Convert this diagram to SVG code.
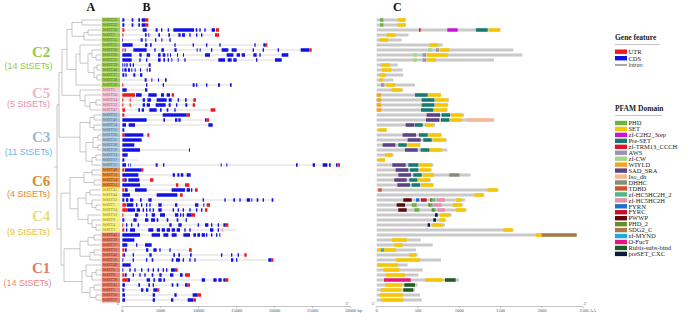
<svg xmlns="http://www.w3.org/2000/svg" width="685" height="313" viewBox="0 0 685 313">
<style>
text{font-family:"Liberation Serif","Times New Roman",serif}
.hd{font-size:12px;font-weight:bold;fill:#111}
.cl{font-size:15px;font-weight:bold}
.cn{font-family:"Liberation Sans",Arial,sans-serif;font-size:9px;text-anchor:middle}
.lab{font-size:4px}
.tree{fill:none;stroke:#a3a3a3;stroke-width:.6}
.i{fill:none;stroke:#9c9c9c;stroke-width:.6}
.c{fill:none;stroke:#1212e4;stroke-width:3.4}
.u{fill:none;stroke:#f01818;stroke-width:3.4}
.gb{fill:none;stroke:#c9c9c9;stroke-width:3.2}
.ax{fill:none;stroke:#8a8a8a;stroke-width:.5}
.axt{font-size:4.5px;fill:#555;text-anchor:middle}
.k2{fill:#9fcd55}.t2{fill:#4a6b1c}
.k5{fill:#f1c6d8}.t5{fill:#9a5c78}
.k3{fill:#a9c3da}.t3{fill:#4a6278}
.k6{fill:#e8923b}.t6{fill:#6a3608}
.k4{fill:#f6ef7c}.t4{fill:#86801c}
.k1{fill:#e8816b}.t1{fill:#7a2818}
.PHD{stroke:#6db140;fill:#6db140}
.SET{stroke:#f7c600;fill:#f7c600}
.C2H2{stroke:#cc12d6;fill:#cc12d6}
.PRE{stroke:#177a6e;fill:#177a6e}
.TRM{stroke:#e41428;fill:#e41428}
.AWS{stroke:#9a93b8;fill:#9a93b8}
.CW{stroke:#a6d785;fill:#a6d785}
.WIY{stroke:#f5a31f;fill:#f5a31f}
.SAD{stroke:#5b4289;fill:#5b4289}
.ISO{stroke:#f5b890;fill:#f5b890}
.DHHC{stroke:#8a8a78;fill:#8a8a78}
.TDBD{stroke:#d0542c;fill:#d0542c}
.HC2{stroke:#4db88a;fill:#4db88a}
.HC{stroke:#e88fae;fill:#e88fae}
.FYRN{stroke:#1e6fd0;fill:#1e6fd0}
.FYRC{stroke:#c8102e;fill:#c8102e}
.PWWP{stroke:#5c0a0a;fill:#5c0a0a}
.PHD2{stroke:#6b8a2a;fill:#6b8a2a}
.SDG2{stroke:#a97a45;fill:#a97a45}
.MYND{stroke:#1aaae6;fill:#1aaae6}
.OFU{stroke:#e8147c;fill:#e8147c}
.RUB{stroke:#1f5c1f;fill:#1f5c1f}
.CXC{stroke:#0b1a3f;fill:#0b1a3f}
.d{fill:none;stroke-width:3.4}
.lg{stroke:none}
.lt{font-size:6.5px;fill:#222}
.lh{font-size:7.5px;font-weight:bold;fill:#222}
</style>

<g id="panel-letters">
<text class="hd" x="86.5" y="11">A</text>
<text class="hd" x="142.5" y="11">B</text>
<text class="hd" x="393" y="11">C</text>
</g>

<g id="clade-titles">
<text class="cl" x="32" y="57" fill="#93c950">C2</text>
<text class="cn" x="28.5" y="68.5" fill="#93c950">(14 StSETs)</text>
<text class="cl" x="32" y="97.5" fill="#ebb5cf">C5</text>
<text class="cn" x="28.5" y="107" fill="#e98db4">(5 StSETs)</text>
<text class="cl" x="32" y="141.5" fill="#9cb9d0">C3</text>
<text class="cn" x="28.5" y="155" fill="#6cb7e2">(11 StSETs)</text>
<text class="cl" x="32" y="185.5" fill="#e1892f">C6</text>
<text class="cn" x="28.5" y="197" fill="#e1892f">(4 StSETs)</text>
<text class="cl" x="32" y="221" fill="#e2e07a">C4</text>
<text class="cn" x="28.5" y="234.5" fill="#e8c51c">(9 StSETs)</text>
<text class="cl" x="32" y="273" fill="#e57a68">C1</text>
<text class="cn" x="27.5" y="286" fill="#e8877a">(14 StSETs)</text>
</g>

<g id="connectors">
<path class="tree" d="M82 20V25M82 20H101M82 25H101M88 30V35M88 30H101M88 35H101M84 32.5V40M84 32.5H88M84 40H101M72 22.5V36.25M72 22.5H82M72 36.25H84M96 55V60M96 55H101M96 60H101M92 50V57.5M92 50H101M92 57.5H96M97 65V70M97 65H101M97 70H101M97 75V80M97 75H101M97 80H101M94 67.5V77.5M94 67.5H97M94 77.5H97M88 53.75V72.5M88 53.75H92M88 72.5H94M80 45V63.13M80 45H101M80 63.13H88M76 54.06V85M76 54.06H80M76 85H101M67 29.38V69.53M67 29.38H72M67 69.53H76
M96 100V105M96 100H101M96 105H101M90 102.5V110M90 102.5H96M90 110H101M85 95V106.25M85 95H101M85 106.25H90M80 90V100.63M80 90H101M80 100.63H85M62 49.45V95.31M62 49.45H67M62 95.31H80
M94 115V120M94 115H101M94 120H101M94 125V130M94 125H101M94 130H101M90 117.5V127.5M90 117.5H94M90 127.5H94M98 135V140M98 135H101M98 140H101M98 145V150M98 145H101M98 150H101M93 137.5V147.5M93 137.5H98M93 147.5H98M96 155V160M96 155H101M96 160H101M92 157.5V165M92 157.5H96M92 165H101M86 142.5V161.25M86 142.5H93M86 161.25H92M80 122.5V151.88M80 122.5H90M80 151.88H86M59 72.38V137.19M59 72.38H62M59 137.19H80
M92 170V175M92 170H101M92 175H101M94 180V185M94 180H101M94 185H101M84 172.5V182.5M84 172.5H92M84 182.5H94
M90 190V195M90 190H101M90 195H101M96 205V210M96 205H101M96 210H101M92 200V207.5M92 200H101M92 207.5H96M86 192.5V203.75M86 192.5H90M86 203.75H92M96 225V230M96 225H101M96 230H101M92 220V227.5M92 220H101M92 227.5H96M88 215V223.75M88 215H101M88 223.75H92M78 198.13V219.38M78 198.13H86M78 219.38H88M70 177.5V208.75M70 177.5H84M70 208.75H78
M94 235V240M94 235H101M94 240H101M88 237.5V245M88 237.5H94M88 245H101M94 250V255M94 250H101M94 255H101M90 252.5V260M90 252.5H94M90 260H101M80 241.25V256.25M80 241.25H88M80 256.25H90M96 270V275M96 270H101M96 275H101M92 272.5V280M92 272.5H96M92 280H101M86 265V276.25M86 265H101M86 276.25H92M94 285V290M94 285H101M94 290H101M96 295V300M96 295H101M96 300H101M90 287.5V297.5M90 287.5H94M90 297.5H96M82 270.63V292.5M82 270.63H86M82 292.5H90M64 248.75V281.56M64 248.75H80M64 281.56H82M61 193.13V265.16M61 193.13H70M61 265.16H64M57 104.78V229.14M57 104.78H59M57 229.14H61M54 166.96H57"/>
</g>

<g id="labels">
<g id="labels-C2">
<rect class="k2" x="101.7" y="17.6" width="18.3" height="4.8"/><text class="lab t2" x="102.6" y="21.4">StSET23</text>
<rect class="k2" x="101.7" y="22.6" width="18.3" height="4.8"/><text class="lab t2" x="102.6" y="26.4">StSET22</text>
<rect class="k2" x="101.7" y="27.6" width="18.3" height="4.8"/><text class="lab t2" x="102.6" y="31.4">StSET10</text>
<rect class="k2" x="101.7" y="32.6" width="18.3" height="4.8"/><text class="lab t2" x="102.6" y="36.4">StSET2</text>
<rect class="k2" x="101.7" y="37.6" width="18.3" height="4.8"/><text class="lab t2" x="102.6" y="41.4">StSET55</text>
<rect class="k2" x="101.7" y="42.6" width="18.3" height="4.8"/><text class="lab t2" x="102.6" y="46.4">StSET35</text>
<rect class="k2" x="101.7" y="47.6" width="18.3" height="4.8"/><text class="lab t2" x="102.6" y="51.4">StSET30</text>
<rect class="k2" x="101.7" y="52.6" width="18.3" height="4.8"/><text class="lab t2" x="102.6" y="56.4">StSET26</text>
<rect class="k2" x="101.7" y="57.6" width="18.3" height="4.8"/><text class="lab t2" x="102.6" y="61.4">StSET25</text>
<rect class="k2" x="101.7" y="62.6" width="18.3" height="4.8"/><text class="lab t2" x="102.6" y="66.4">StSET39</text>
<rect class="k2" x="101.7" y="67.6" width="18.3" height="4.8"/><text class="lab t2" x="102.6" y="71.4">StSET40</text>
<rect class="k2" x="101.7" y="72.6" width="18.3" height="4.8"/><text class="lab t2" x="102.6" y="76.4">StSET37</text>
<rect class="k2" x="101.7" y="77.6" width="18.3" height="4.8"/><text class="lab t2" x="102.6" y="81.4">StSET38</text>
<rect class="k2" x="101.7" y="82.6" width="18.3" height="4.8"/><text class="lab t2" x="102.6" y="86.4">StSET36</text>
</g>
<g id="labels-C5">
<rect class="k5" x="101.7" y="87.6" width="18.3" height="4.8"/><text class="lab t5" x="102.6" y="91.4">StSET5</text>
<rect class="k5" x="101.7" y="92.6" width="18.3" height="4.8"/><text class="lab t5" x="102.6" y="96.4">StSET50</text>
<rect class="k5" x="101.7" y="97.6" width="18.3" height="4.8"/><text class="lab t5" x="102.6" y="101.4">StSET34</text>
<rect class="k5" x="101.7" y="102.6" width="18.3" height="4.8"/><text class="lab t5" x="102.6" y="106.4">StSET33</text>
<rect class="k5" x="101.7" y="107.6" width="18.3" height="4.8"/><text class="lab t5" x="102.6" y="111.4">StSET47</text>
</g>
<g id="labels-C3">
<rect class="k3" x="101.7" y="112.6" width="18.3" height="4.8"/><text class="lab t3" x="102.6" y="116.4">StSET32</text>
<rect class="k3" x="101.7" y="117.6" width="18.3" height="4.8"/><text class="lab t3" x="102.6" y="121.4">StSET46</text>
<rect class="k3" x="101.7" y="122.6" width="18.3" height="4.8"/><text class="lab t3" x="102.6" y="126.4">StSET14</text>
<rect class="k3" x="101.7" y="127.6" width="18.3" height="4.8"/><text class="lab t3" x="102.6" y="131.4">StSET15</text>
<rect class="k3" x="101.7" y="132.6" width="18.3" height="4.8"/><text class="lab t3" x="102.6" y="136.4">StSET20</text>
<rect class="k3" x="101.7" y="137.6" width="18.3" height="4.8"/><text class="lab t3" x="102.6" y="141.4">StSET21</text>
<rect class="k3" x="101.7" y="142.6" width="18.3" height="4.8"/><text class="lab t3" x="102.6" y="146.4">StSET18</text>
<rect class="k3" x="101.7" y="147.6" width="18.3" height="4.8"/><text class="lab t3" x="102.6" y="151.4">StSET19</text>
<rect class="k3" x="101.7" y="152.6" width="18.3" height="4.8"/><text class="lab t3" x="102.6" y="156.4">StSET13</text>
<rect class="k3" x="101.7" y="157.6" width="18.3" height="4.8"/><text class="lab t3" x="102.6" y="161.4">StSET17</text>
<rect class="k3" x="101.7" y="162.6" width="18.3" height="4.8"/><text class="lab t3" x="102.6" y="166.4">StSET11</text>
</g>
<g id="labels-C6">
<rect class="k6" x="101.7" y="167.6" width="18.3" height="4.8"/><text class="lab t6" x="102.6" y="171.4">StSET48</text>
<rect class="k6" x="101.7" y="172.6" width="18.3" height="4.8"/><text class="lab t6" x="102.6" y="176.4">StSET53</text>
<rect class="k6" x="101.7" y="177.6" width="18.3" height="4.8"/><text class="lab t6" x="102.6" y="181.4">StSET54</text>
<rect class="k6" x="101.7" y="182.6" width="18.3" height="4.8"/><text class="lab t6" x="102.6" y="186.4">StSET51</text>
</g>
<g id="labels-C4">
<rect class="k4" x="101.7" y="187.6" width="18.3" height="4.8"/><text class="lab t4" x="102.6" y="191.4">StSET45</text>
<rect class="k4" x="101.7" y="192.6" width="18.3" height="4.8"/><text class="lab t4" x="102.6" y="196.4">StSET44</text>
<rect class="k4" x="101.7" y="197.6" width="18.3" height="4.8"/><text class="lab t4" x="102.6" y="201.4">StSET52</text>
<rect class="k4" x="101.7" y="202.6" width="18.3" height="4.8"/><text class="lab t4" x="102.6" y="206.4">StSET7</text>
<rect class="k4" x="101.7" y="207.6" width="18.3" height="4.8"/><text class="lab t4" x="102.6" y="211.4">StSET24</text>
<rect class="k4" x="101.7" y="212.6" width="18.3" height="4.8"/><text class="lab t4" x="102.6" y="216.4">StSET12</text>
<rect class="k4" x="101.7" y="217.6" width="18.3" height="4.8"/><text class="lab t4" x="102.6" y="221.4">StSET9</text>
<rect class="k4" x="101.7" y="222.6" width="18.3" height="4.8"/><text class="lab t4" x="102.6" y="226.4">StSET4</text>
<rect class="k4" x="101.7" y="227.6" width="18.3" height="4.8"/><text class="lab t4" x="102.6" y="231.4">StSET3</text>
</g>
<g id="labels-C1">
<rect class="k1" x="101.7" y="232.6" width="18.3" height="4.8"/><text class="lab t1" x="102.6" y="236.4">StSET43</text>
<rect class="k1" x="101.7" y="237.6" width="18.3" height="4.8"/><text class="lab t1" x="102.6" y="241.4">StSET29</text>
<rect class="k1" x="101.7" y="242.6" width="18.3" height="4.8"/><text class="lab t1" x="102.6" y="246.4">StSET27</text>
<rect class="k1" x="101.7" y="247.6" width="18.3" height="4.8"/><text class="lab t1" x="102.6" y="251.4">StSET31</text>
<rect class="k1" x="101.7" y="252.6" width="18.3" height="4.8"/><text class="lab t1" x="102.6" y="256.4">StSET42</text>
<rect class="k1" x="101.7" y="257.6" width="18.3" height="4.8"/><text class="lab t1" x="102.6" y="261.4">StSET16</text>
<rect class="k1" x="101.7" y="262.6" width="18.3" height="4.8"/><text class="lab t1" x="102.6" y="266.4">StSET49</text>
<rect class="k1" x="101.7" y="267.6" width="18.3" height="4.8"/><text class="lab t1" x="102.6" y="271.4">StSET6</text>
<rect class="k1" x="101.7" y="272.6" width="18.3" height="4.8"/><text class="lab t1" x="102.6" y="276.4">StSET8</text>
<rect class="k1" x="101.7" y="277.6" width="18.3" height="4.8"/><text class="lab t1" x="102.6" y="281.4">StSET28</text>
<rect class="k1" x="101.7" y="282.6" width="18.3" height="4.8"/><text class="lab t1" x="102.6" y="286.4">StSET41</text>
<rect class="k1" x="101.7" y="287.6" width="18.3" height="4.8"/><text class="lab t1" x="102.6" y="291.4">StSET1</text>
<rect class="k1" x="101.7" y="292.6" width="18.3" height="4.8"/><text class="lab t1" x="102.6" y="296.4">StSET56</text>
<rect class="k1" x="101.7" y="297.6" width="18.3" height="4.8"/><text class="lab t1" x="102.6" y="301.4">StSET57</text>
</g>
</g>

<g id="gene-structures" transform="translate(90 0) scale(.333333 1)">
<g id="gene-StSET23"><path class="i" d="M97 20H175"/><path class="c" d="M97 20H103M125 20H130M145 20H150M155 20H165"/><path class="u" d="M165 20H175"/></g>
<g id="gene-StSET22"><path class="i" d="M97 25H175"/><path class="c" d="M97 25H103M125 25H130M145 25H150M155 25H165"/><path class="u" d="M165 25H175"/></g>
<g id="gene-StSET10"><path class="i" d="M97 30H387"/><path class="c" d="M158 30H170M197 30H203M213 30H217M233 30H237M250 30H312M317 30H322M328 30H332M343 30H347M365 30H375"/><path class="u" d="M97 30H103M378 30H387"/></g>
<g id="gene-StSET2"><path class="i" d="M97 35H387"/><path class="c" d="M165 35H170M175 35H178M205 35H210M235 35H240M265 35H272M276 35H285M298 35H302M318 35H322M333 35H337"/><path class="u" d="M97 35H100M375 35H387"/></g>
<g id="gene-StSET55"><path class="i" d="M97 40H242"/><path class="c" d="M97 40H99M152 40H158M166 40H169M195 40H199M214 40H217M238 40H242"/></g>
<g id="gene-StSET35"><path class="i" d="M97 45H532"/><path class="c" d="M97 45H128M165 45H172M180 45H185M253 45H257M308 45H312M348 45H352M388 45H392M493 45H497M520 45H525"/><path class="u" d="M525 45H532"/></g>
<g id="gene-StSET30"><path class="i" d="M97 50H665"/><path class="c" d="M104 50H107M130 50H170M193 50H197M214 50H222M253 50H260M320 50H323M329 50H332M363 50H367M395 50H415M425 50H440M488 50H492M518 50H522M563 50H567M632 50H658"/><path class="u" d="M97 50H100M658 50H665"/></g>
<g id="gene-StSET26"><path class="i" d="M97 55H595"/><path class="c" d="M97 55H125M148 55H155M170 55H180M204 55H212M218 55H226M232 55H235M240 55H243M261 55H264M279 55H282M345 55H360M410 55H430M440 55H450M455 55H465M490 55H500M508 55H512M575 55H595"/></g>
<g id="gene-StSET25"><path class="i" d="M97 60H575"/><path class="c" d="M97 60H125M148 60H152M168 60H172M204 60H212M220 60H225M233 60H237M244 60H247M263 60H266M283 60H287M385 60H405M413 60H425M430 60H440M498 60H502M555 60H575"/></g>
<g id="gene-StSET39"><path class="i" d="M97 65H182"/><path class="c" d="M97 65H100M103 65H106M109 65H113M119 65H123M128 65H132M176 65H182"/></g>
<g id="gene-StSET40"><path class="i" d="M97 70H182"/><path class="c" d="M97 70H100M103 70H110M114 70H120M124 70H127M134 70H137M150 70H153M170 70H173M177 70H182"/></g>
<g id="gene-StSET37"><path class="i" d="M97 75H157"/><path class="c" d="M97 75H103M106 75H110M130 75H136M150 75H157"/></g>
<g id="gene-StSET38"><path class="i" d="M97 80H230"/><path class="c" d="M164 80H170M184 80H187M204 80H207M225 80H230"/></g>
<g id="gene-StSET36"><path class="i" d="M97 85H425"/><path class="c" d="M168 85H172M218 85H222M308 85H314M318 85H322M348 85H352M384 85H390M420 85H425"/><path class="u" d="M97 85H100"/></g>
<g id="gene-StSET5"><path class="i" d="M97 90H172"/><path class="c" d="M97 90H110M165 90H172"/></g>
<g id="gene-StSET50"><path class="i" d="M97 95H252"/><path class="c" d="M138 95H155M175 95H200M213 95H222M230 95H240"/><path class="u" d="M97 95H135M245 95H252"/></g>
<g id="gene-StSET34"><path class="i" d="M97 100H318"/><path class="c" d="M158 100H165M172 100H183M200 100H230M236 100H245M263 100H267M285 100H290"/><path class="u" d="M97 100H100M119 100H122M310 100H318"/></g>
<g id="gene-StSET33"><path class="i" d="M97 105H315"/><path class="c" d="M158 105H165M170 105H180M197 105H227M236 105H242M258 105H262M286 105H292"/><path class="u" d="M97 105H100M119 105H122M308 105H315"/></g>
<g id="gene-StSET47"><path class="i" d="M97 110H376"/><path class="c" d="M145 110H150M155 110H162M178 110H200M210 110H215M230 110H235M253 110H257"/><path class="u" d="M97 110H105M362 110H376"/></g>
<g id="gene-StSET32"><path class="i" d="M97 115H300"/><path class="c" d="M218 115H290"/><path class="u" d="M97 115H103M290 115H300"/></g>
<g id="gene-StSET46"><path class="i" d="M97 120H357"/><path class="c" d="M97 120H170M220 120H225M255 120H262M265 120H272M345 120H350"/><path class="u" d="M350 120H357"/></g>
<g id="gene-StSET14"><path class="i" d="M97 125H368"/><path class="c" d="M97 125H108M116 125H135M355 125H368"/></g>
<g id="gene-StSET15"><path class="c" d="M97 130H103"/></g>
<g id="gene-StSET20"><path class="i" d="M97 135H178"/><path class="c" d="M103 135H160"/><path class="u" d="M97 135H103M172 135H178"/></g>
<g id="gene-StSET21"><path class="c" d="M97 140H155"/></g>
<g id="gene-StSET18"><path class="c" d="M97 145H133"/></g>
<g id="gene-StSET19"><path class="i" d="M97 150H300"/><path class="c" d="M97 150H150M297 150H300"/></g>
<g id="gene-StSET13"><path class="c" d="M97 155H113"/></g>
<g id="gene-StSET17"><path class="i" d="M97 160H143"/><path class="c" d="M97 160H103"/></g>
<g id="gene-StSET11"><path class="i" d="M97 165H750"/><path class="c" d="M97 165H108M114 165H116M121 165H123M197 165H203M219 165H223M392 165H395M409 165H412M618 165H623M668 165H675M698 165H712M717 165H722M738 165H742"/><path class="u" d="M742 165H750"/></g>
<g id="gene-StSET48"><path class="i" d="M97 170H160"/><path class="c" d="M105 170H155"/><path class="u" d="M97 170H103M155 170H160"/></g>
<g id="gene-StSET53"><path class="i" d="M97 175H302"/><path class="c" d="M97 175H145M248 175H255M262 175H268M272 175H280M290 175H302"/></g>
<g id="gene-StSET54"><path class="i" d="M97 180H190"/><path class="c" d="M103 180H110M115 180H148"/><path class="u" d="M97 180H103M180 180H190"/></g>
<g id="gene-StSET51"><path class="i" d="M97 185H298"/><path class="c" d="M97 185H150"/><path class="u" d="M258 185H265M285 185H298"/></g>
<g id="gene-StSET45"><path class="i" d="M97 190H323"/><path class="c" d="M105 190H113M135 190H170M245 190H285M290 190H300M303 190H307"/><path class="u" d="M97 190H103M315 190H323"/></g>
<g id="gene-StSET44"><path class="i" d="M97 195H278"/><path class="c" d="M97 195H120M200 195H262"/><path class="u" d="M270 195H278"/></g>
<g id="gene-StSET52"><path class="i" d="M97 200H550"/><path class="c" d="M97 200H103M108 200H115M120 200H130M150 200H155M175 200H185M338 200H342M403 200H407M430 200H435M448 200H452M470 200H480M484 200H487M500 200H505M518 200H522M545 200H550"/></g>
<g id="gene-StSET7"><path class="i" d="M97 205H360"/><path class="c" d="M110 205H130M138 205H142M153 205H157M168 205H172M178 205H182M205 205H215M255 205H262M315 205H325M340 205H343"/><path class="u" d="M97 205H108M350 205H360"/></g>
<g id="gene-StSET24"><path class="i" d="M97 210H352"/><path class="c" d="M112 210H135M140 210H150M158 210H162M168 210H172M178 210H182M188 210H192M205 210H215M248 210H252M263 210H267M278 210H282M298 210H302M318 210H322M333 210H337"/><path class="u" d="M97 210H112M345 210H352"/></g>
<g id="gene-StSET12"><path class="i" d="M97 215H315"/><path class="c" d="M135 215H145M168 215H172M185 215H195M210 215H225M255 215H265M270 215H274M278 215H282M290 215H303"/><path class="u" d="M97 215H100M303 215H315"/></g>
<g id="gene-StSET9"><path class="i" d="M97 220H291"/><path class="c" d="M97 220H103M130 220H140M165 220H175M183 220H195M200 220H205M230 220H235M260 220H265M287 220H291"/></g>
<g id="gene-StSET4"><path class="i" d="M97 225H415"/><path class="c" d="M108 225H112M123 225H127M143 225H147M238 225H245M265 225H275M323 225H327M345 225H355M363 225H367M383 225H387M400 225H405"/><path class="u" d="M97 225H100M405 225H415"/></g>
<g id="gene-StSET3"><path class="i" d="M97 230H437"/><path class="c" d="M108 230H112M120 230H135M175 230H190M200 230H210M215 230H225M230 230H240M245 230H255M260 230H270M283 230H287M298 230H302M360 230H370M383 230H387"/><path class="u" d="M97 230H103"/><path class="u" style="stroke:#f4a6a6" d="M395 230H400"/></g>
<g id="gene-StSET43"><path class="i" d="M97 235H391"/><path class="c" d="M97 235H150M185 235H210M220 235H235M245 235H260M280 235H300M310 235H318M322 235H330M335 235H345M348 235H352M363 235H367M378 235H382M388 235H391"/></g>
<g id="gene-StSET29"><path class="c" d="M97 240H133"/></g>
<g id="gene-StSET27"><path class="i" d="M97 245H185"/><path class="c" d="M97 245H112M138 245H142M165 245H185"/></g>
<g id="gene-StSET31"><path class="i" d="M97 250H305"/><path class="c" d="M105 250H110M168 250H175M190 250H200M208 250H212M238 250H242"/><path class="u" d="M97 250H103M297 250H305"/></g>
<g id="gene-StSET42"><path class="i" d="M97 255H470"/><path class="c" d="M100 255H105M128 255H132M178 255H185M250 255H255M265 255H270M300 255H305M393 255H397M423 255H427M443 255H447"/><path class="u" d="M97 255H100M463 255H470"/></g>
<g id="gene-StSET16"><path class="i" d="M97 260H550"/><path class="c" d="M97 260H100M128 260H132M168 260H172M185 260H190M245 260H250M258 260H270M278 260H282M298 260H302M313 260H317M423 260H430M438 260H442M535 260H545"/><path class="u" d="M545 260H550"/></g>
<g id="gene-StSET49"><path class="c" d="M97 265H122"/></g>
<g id="gene-StSET6"><path class="i" d="M97 270H263"/><path class="c" d="M97 270H100M118 270H122M133 270H137M153 270H157M173 270H177M188 270H192M203 270H207M218 270H222M228 270H232M243 270H255"/><path class="u" d="M255 270H263"/></g>
<g id="gene-StSET8"><path class="i" d="M97 275H300"/><path class="c" d="M105 275H110M128 275H132M148 275H152M163 275H167M185 275H190M208 275H215M240 275H250M270 275H278"/><path class="u" d="M97 275H103M285 275H300"/></g>
<g id="gene-StSET28"><path class="i" d="M97 280H415"/><path class="c" d="M112 280H120M170 280H180M190 280H195M205 280H215M220 280H225M335 280H345M370 280H380M385 280H395M400 280H405"/><path class="u" d="M97 280H112M405 280H415"/></g>
<g id="gene-StSET41"><path class="i" d="M97 285H300"/><path class="c" d="M97 285H105M145 285H150M175 285H180M188 285H192M245 285H250M260 285H265M285 285H293"/><path class="u" d="M293 285H300"/></g>
<g id="gene-StSET1"><path class="i" d="M97 290H208"/><path class="c" d="M97 290H103M153 290H160M168 290H175M190 290H203"/><path class="u" d="M203 290H208"/></g>
<g id="gene-StSET56"><path class="i" d="M97 295H333"/><path class="c" d="M97 295H105M188 295H195M253 295H260M308 295H323"/><path class="u" d="M323 295H333"/></g>
<g id="gene-StSET57"><path class="i" d="M97 300H318"/><path class="c" d="M97 300H105M188 300H195M243 300H250M293 300H310"/><path class="u" d="M310 300H318"/></g>
</g>

<g id="gene-axis">
<path class="ax" d="M122.3 306.5H350.7M122.3 306.5V308M160.4 306.5V308M198.5 306.5V308M236.6 306.5V308M274.6 306.5V308M312.7 306.5V308M350.7 306.5V308"/>
<text class="axt" x="118" y="304.5">5'</text>
<text class="axt" x="347" y="304.5">3'</text>
<text class="axt" x="122.3" y="312.3">0</text>
<text class="axt" x="160.4" y="312.3">5000</text>
<text class="axt" x="198.5" y="312.3">10000</text>
<text class="axt" x="236.6" y="312.3">15000</text>
<text class="axt" x="274.6" y="312.3">20000</text>
<text class="axt" x="312.7" y="312.3">25000</text>
<text class="axt" x="345" y="312.3" style="text-anchor:start">30000 bp</text>
</g>

<g id="domains" transform="translate(360 0) scale(.333333 1)">
<path class="gb" d="M50 20H137M50 25H137M50 30H422M50 35H145M50 40H125M50 45H248M50 50H460M50 55H487M50 60H402M50 65H113M50 70H128M50 75H130M50 80H100M50 85H165M50 90H130M50 95H243M50 100H267M50 105H265M50 110H263M50 115H312M50 120H402M50 125H225M50 130H80M50 135H245M50 140H260M50 145H182M50 150H262M50 155H100M50 160H75M50 165H220M50 170H215M50 175H332M50 180H213M50 185H220M50 190H415M50 195H373M50 200H315M50 205H310M50 210H320M50 215H275M50 220H258M50 225H255M50 230H460M50 235H650M50 240H182M50 245H218M50 250H168M50 255H173M50 260H243M50 265H143M50 270H188M50 275H175M50 280H297M50 285H173M50 290H165M50 295H180M50 300H185"/>
<path class="PHD d" d="M60 20H70M60 25H70M155 205H170M163 210H178"/>
<path class="SET d" d="M113 20H137M113 25H137M386 30H420M80 35H107M58 40H85M208 45H235M240 50H268M200 55H263M200 60H228M63 65H90M65 70H93M58 75H78M58 80H68M78 85H105M95 90H125M205 95H243M225 100H265M225 105H262M222 110H260M273 115H308M272 120H305M195 125H220M55 130H80M205 135H243M218 140H258M143 145H180M210 150H245M75 155H97M55 160H75M178 165H215M180 170H212M188 175H222M175 180H210M183 185H220M383 190H413M343 195H370M288 200H305M278 205H305M288 210H315M240 215H270M237 220H255M217 225H248M430 230H458M527 235H545M95 240H140M103 245H128M53 250H63M72 250H108M148 255H168M107 260H180M52 265H113M70 270H118M78 275H135M195 280H248M75 285H125M63 290H123M60 295H128M63 300H130"/>
<path class="C2H2 d" d="M262 30H293"/>
<path class="PRE d" d="M348 30H383M165 95H203M185 100H223M185 105H223M183 110H220M245 115H270M243 120H268M165 125H188M177 135H203M190 140H215M115 145H140M182 150H208M145 165H175M150 170H175M160 175H185M148 180H172M155 185H180"/>
<path class="TRM d" d="M177 30H182"/>
<path class="AWS d" d="M228 50H237M188 55H198M188 60H198M63 85H73"/>
<path class="CW d" d="M205 50H215M160 55H170M160 60H170"/>
<path class="WIY d" d="M50 95H63M50 100H63M50 105H63M50 110H63"/>
<path class="SAD d" d="M200 115H240M198 120H238M137 125H163M128 135H168M143 140H182M68 145H106M135 150H173M97 165H137M107 170H145M115 175H153M103 180H140M112 185H150"/>
<path class="ISO d" d="M320 120H402"/>
<path class="DHHC d" d="M268 175H298"/>
<path class="TDBD d" d="M55 190H65"/>
<path class="PWWP d" d="M130 200H155M110 205H135M115 210H140"/>
<path class="FYRN d" d="M168 200H178"/>
<path class="FYRC d" d="M183 200H200"/>
<path class="PHD2 d" d="M210 200H218M205 205H212M215 210H222"/>
<path class="HC2 d" d="M220 200H226M213 205H218M222 210H227"/>
<path class="HC d" d="M230 200H255M220 205H245M232 210H255"/>
<path class="CXC d" d="M225 215H233M220 220H228M203 225H210"/>
<path class="SDG2 d" d="M545 235H650"/>
<path class="MYND d" d="M63 250H72"/>
<path class="OFU d" d="M72 280H152"/>
<path class="RUB d" d="M255 280H287M133 285H165M130 290H160"/>
</g>

<g id="domain-axis">
<path class="ax" d="M376.7 306.5H583.2M376.7 306.5V308M418 306.5V308M459.3 306.5V308M500.6 306.5V308M541.9 306.5V308M583.2 306.5V308"/>
<text class="axt" x="373" y="304.5">5'</text>
<text class="axt" x="585" y="304.5">3'</text>
<text class="axt" x="376.7" y="312.3">0</text>
<text class="axt" x="418" y="312.3">500</text>
<text class="axt" x="459.3" y="312.3">1000</text>
<text class="axt" x="500.6" y="312.3">1500</text>
<text class="axt" x="541.9" y="312.3">2000</text>
<text class="axt" x="579.5" y="312.3" style="text-anchor:start">2500 AA</text>
</g>

<g id="legend-gene-feature">
<text class="lh" x="615" y="40">Gene feature</text>
<path d="M615 44.5H660" stroke="#9a9a9a" stroke-width=".6"/>
<rect x="615" y="49.5" width="12" height="4.4" fill="#f01818"/><text class="lt" x="628.5" y="54">UTR</text>
<rect x="615" y="56" width="12" height="4.4" fill="#1212e4"/><text class="lt" x="628.5" y="60.5">CDS</text>
<path d="M615 65H627" stroke="#222" stroke-width=".8"/><text x="628.5" y="67" style="font-family:'Liberation Sans',Arial,sans-serif;font-size:5.5px;fill:#333">Intron</text>
</g>

<g id="legend-pfam">
<text class="lh" x="615" y="111">PFAM Domain</text>
<path d="M615 115.5H662" stroke="#9a9a9a" stroke-width=".6"/>
<rect class="PHD lg" x="615" y="120.8" width="12" height="4.4"/><text class="lt" x="628.5" y="125.2">PHD</text>
<rect class="SET lg" x="615" y="126.75" width="12" height="4.4"/><text class="lt" x="628.5" y="131.15">SET</text>
<rect class="C2H2 lg" x="615" y="132.7" width="12" height="4.4"/><text class="lt" x="628.5" y="137.1">zf-C2H2_3rep</text>
<rect class="PRE lg" x="615" y="138.65" width="12" height="4.4"/><text class="lt" x="628.5" y="143.05">Pre-SET</text>
<rect class="TRM lg" x="615" y="144.6" width="12" height="4.4"/><text class="lt" x="628.5" y="149">zf-TRM13_CCCH</text>
<rect class="AWS lg" x="615" y="150.55" width="12" height="4.4"/><text class="lt" x="628.5" y="154.95">AWS</text>
<rect class="CW lg" x="615" y="156.5" width="12" height="4.4"/><text class="lt" x="628.5" y="160.9">zf-CW</text>
<rect class="WIY lg" x="615" y="162.45" width="12" height="4.4"/><text class="lt" x="628.5" y="166.85">WIYLD</text>
<rect class="SAD lg" x="615" y="168.4" width="12" height="4.4"/><text class="lt" x="628.5" y="172.8">SAD_SRA</text>
<rect class="ISO lg" x="615" y="174.35" width="12" height="4.4"/><text class="lt" x="628.5" y="178.75">Iso_dh</text>
<rect class="DHHC lg" x="615" y="180.3" width="12" height="4.4"/><text class="lt" x="628.5" y="184.7">DHHC</text>
<rect class="TDBD lg" x="615" y="186.25" width="12" height="4.4"/><text class="lt" x="628.5" y="190.65">TDBD</text>
<rect class="HC2 lg" x="615" y="192.2" width="12" height="4.4"/><text class="lt" x="628.5" y="196.6">zf-HC5HC2H_2</text>
<rect class="HC lg" x="615" y="198.15" width="12" height="4.4"/><text class="lt" x="628.5" y="202.55">zf-HC5HC2H</text>
<rect class="FYRN lg" x="615" y="204.1" width="12" height="4.4"/><text class="lt" x="628.5" y="208.5">FYRN</text>
<rect class="FYRC lg" x="615" y="210.05" width="12" height="4.4"/><text class="lt" x="628.5" y="214.45">FYRC</text>
<rect class="PWWP lg" x="615" y="216" width="12" height="4.4"/><text class="lt" x="628.5" y="220.4">PWWP</text>
<rect class="PHD2 lg" x="615" y="221.95" width="12" height="4.4"/><text class="lt" x="628.5" y="226.35">PHD_2</text>
<rect class="SDG2 lg" x="615" y="227.9" width="12" height="4.4"/><text class="lt" x="628.5" y="232.3">SDG2_C</text>
<rect class="MYND lg" x="615" y="233.85" width="12" height="4.4"/><text class="lt" x="628.5" y="238.25">zf-MYND</text>
<rect class="OFU lg" x="615" y="239.8" width="12" height="4.4"/><text class="lt" x="628.5" y="244.2">O-FucT</text>
<rect class="RUB lg" x="615" y="245.75" width="12" height="4.4"/><text class="lt" x="628.5" y="250.15">Rubis-subs-bind</text>
<rect class="CXC lg" x="615" y="251.7" width="12" height="4.4"/><text class="lt" x="628.5" y="256.1">preSET_CXC</text>
</g>
</svg>
